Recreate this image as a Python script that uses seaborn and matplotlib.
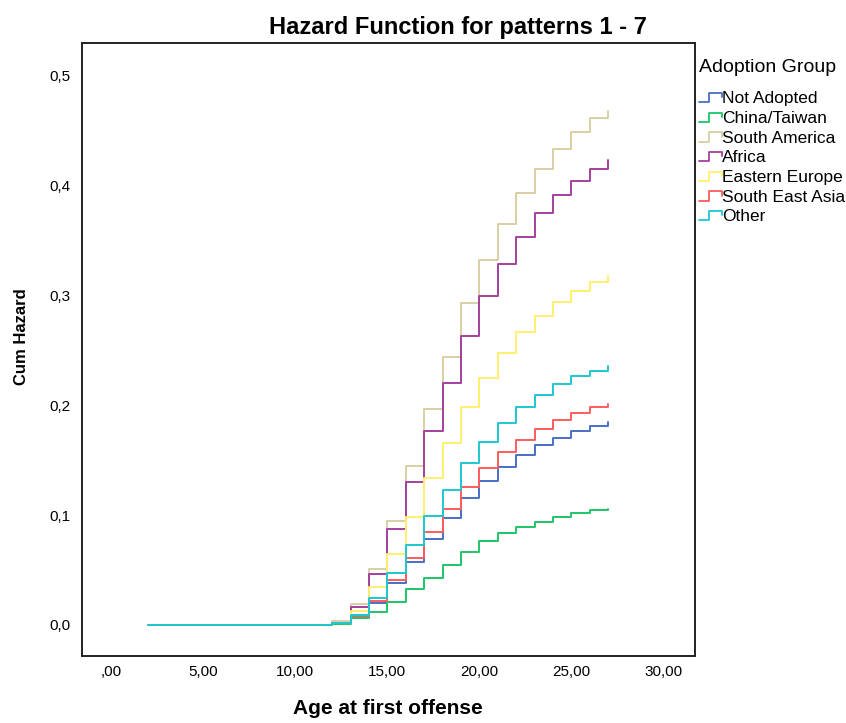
import pandas as pd
import matplotlib
matplotlib.use("Agg")
import matplotlib.pyplot as plt
import seaborn as sns
from matplotlib.lines import Line2D
from matplotlib.legend_handler import HandlerBase
from matplotlib.ticker import FuncFormatter

# Cumulative hazard by age at first offense
ages = [2, 12, 13, 14, 15, 16, 17, 18, 19, 20, 21, 22, 23, 24, 25, 26, 27]
groups = ["Not Adopted", "China/Taiwan", "South America", "Africa",
          "Eastern Europe", "South East Asia", "Other"]

not_adopted = [0, 0.002, 0.007, 0.020, 0.038, 0.057, 0.078, 0.097, 0.116,
               0.131, 0.144, 0.155, 0.164, 0.170, 0.177, 0.181, 0.185]
china_taiwan = [0, 0.001, 0.006, 0.012, 0.021, 0.033, 0.043, 0.055, 0.066,
                0.076, 0.084, 0.089, 0.094, 0.098, 0.102, 0.105, 0.106]
south_america = [0, 0.004, 0.019, 0.051, 0.095, 0.145, 0.197, 0.244, 0.293,
                 0.332, 0.365, 0.393, 0.415, 0.433, 0.449, 0.461, 0.468]
africa = [0, 0.002, 0.016, 0.046, 0.087, 0.130, 0.177, 0.220, 0.263,
          0.299, 0.329, 0.353, 0.375, 0.391, 0.404, 0.415, 0.423]
eastern_europe = [0, 0.002, 0.013, 0.035, 0.065, 0.098, 0.134, 0.166, 0.198,
                  0.225, 0.248, 0.267, 0.281, 0.294, 0.304, 0.312, 0.318]
south_east_asia = [0, 0.002, 0.008, 0.022, 0.041, 0.061, 0.085, 0.106, 0.126,
                   0.143, 0.157, 0.168, 0.178, 0.187, 0.193, 0.198, 0.201]
other = [0, 0.002, 0.009, 0.025, 0.047, 0.073, 0.099, 0.123, 0.147,
         0.167, 0.184, 0.198, 0.209, 0.219, 0.227, 0.231, 0.236]

colors = ["#4a6fc4", "#1fc567", "#d9cfa3", "#a4409e",
          "#fff06c", "#ff5c5c", "#1cc8d2"]

series = [not_adopted, china_taiwan, south_america, africa,
          eastern_europe, south_east_asia, other]
df = pd.concat([pd.DataFrame({"age": ages, "hazard": vals, "group": g})
                for g, vals in zip(groups, series)], ignore_index=True)

sns.set_style("white")
plt.rcParams['font.family'] = ['Liberation Sans', 'DejaVu Sans']
plt.rcParams['text.color'] = 'black'
plt.rcParams['axes.labelcolor'] = 'black'

fig = plt.figure(figsize=(8.46, 7.23), dpi=100)
ax = fig.add_axes([0.097, 0.093, 0.724, 0.848])

sns.lineplot(data=df, x="age", y="hazard", hue="group", hue_order=groups,
             palette=colors, estimator=None, drawstyle="steps-post",
             linewidth=1.4, legend=False, ax=ax)

ax.set_xlim(-1.6, 31.7)
ax.set_ylim(-0.028, 0.530)
ax.set_xticks([0, 5, 10, 15, 20, 25, 30])
ax.set_yticks([0, 0.1, 0.2, 0.3, 0.4, 0.5])
ax.xaxis.set_major_formatter(FuncFormatter(
    lambda v, p: ",00" if v == 0 else f"{v:.2f}".replace(".", ",")))
ax.yaxis.set_major_formatter(FuncFormatter(
    lambda v, p: f"{v:.1f}".replace(".", ",")))
ax.tick_params(axis="both", which="major", direction="out", length=5,
               width=1.2, colors="black", labelsize=11)
ax.tick_params(axis="x", pad=2)
for s in ax.spines.values():
    s.set_color("#222222")
    s.set_linewidth(1.4)

ax.set_xlabel("Age at first offense", fontsize=15, fontweight="bold", labelpad=14)
ax.set_ylabel("Cum Hazard", fontsize=12, fontweight="bold")
ax.yaxis.set_label_coords(-0.086, 0.52)
fig.text(0.541, 0.962, "Hazard Function for patterns 1 - 7", ha="center",
         va="center", fontsize=17, fontweight="bold")


class StepHandler(HandlerBase):
    def create_artists(self, legend, orig_handle, xdescent, ydescent,
                       width, height, fontsize, trans):
        x0 = -xdescent
        y0 = -ydescent
        xs = [x0, x0 + width * 0.45, x0 + width * 0.45, x0 + width, x0 + width]
        ys = [y0 + height * 0.1, y0 + height * 0.1, y0 + height * 0.85,
              y0 + height * 0.85, y0 + height * 0.5]
        ln = Line2D(xs, ys, color=orig_handle.get_color(), linewidth=1.3)
        ln.set_transform(trans)
        return [ln]


handles = [Line2D([], [], color=c) for c in colors]
leg = fig.legend(handles, groups, loc="upper left", bbox_to_anchor=(0.818, 0.928),
                 frameon=False, title="Adoption Group", fontsize=12.5,
                 title_fontsize=14, handlelength=1.3, handletextpad=0.05,
                 labelspacing=0.26, borderaxespad=0,
                 handler_map={Line2D: StepHandler()})
leg._legend_box.align = "left"
leg._legend_box.sep = 11

fig.savefig("out.png", dpi=100)
